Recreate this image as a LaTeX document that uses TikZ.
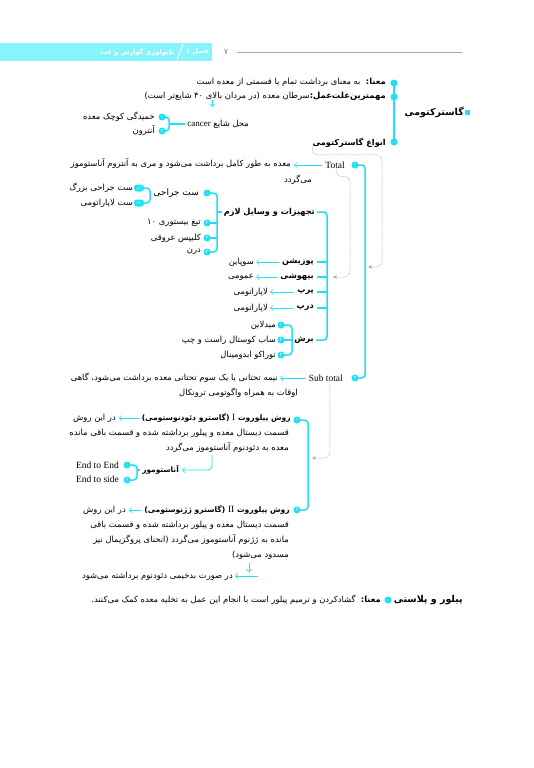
\documentclass[tikz,border=0pt]{standalone}
\usepackage{fontspec}
\setmainfont{Liberation Serif}
\newfontfamily\fa[Script=Arabic]{DejaVu Sans}
\TeXXeTstate=1
\usetikzlibrary{arrows.meta}
\definecolor{cy}{RGB}{30,225,245}
\definecolor{cyl}{RGB}{135,243,250}
\definecolor{gl}{RGB}{170,170,170}
\newcommand\rtltext[1]{\beginR#1\endR}
\newcommand\ltrtext[1]{\beginL{#1}\endL}
\begin{document}
\begin{tikzpicture}[x=1pt,y=-1pt,
  fa/.style={font=\fa\fontsize{8.4}{9}\selectfont, inner sep=0pt, anchor=east},
  fab/.style={font=\fa\bfseries\fontsize{8.2}{9}\selectfont, inner sep=0pt, anchor=east},
  lat/.style={font=\rmfamily\fontsize{9.5}{10}\selectfont, inner sep=0pt, anchor=east},
  hd/.style={font=\fa\bfseries\fontsize{6.5}{7}\selectfont, text=white, inner sep=0pt, anchor=east},
  cyline/.style={draw=cy, line width=1.5pt, rounded corners=3.5pt},
  arr/.style={draw=cy, line width=0.7pt, -{Straight Barb[length=2.5pt,width=5pt]}},
  gcon/.style={draw=gl, line width=0.5pt, dash pattern=on 1pt off 0.8pt, rounded corners=6pt, -{Stealth[length=4pt,width=3.5pt]}},
  dot/.style={circle, fill=cy, minimum size=7pt, inner sep=0pt},
  ndot/.style={circle, fill=cy, minimum size=7pt, inner sep=0pt, text=white, font=\fa\fontsize{4.5}{4.5}\selectfont},
  pill/.style={rectangle, rounded corners=3pt, fill=cy, minimum width=10pt, minimum height=7pt, inner sep=0pt, text=white, font=\fa\fontsize{4}{4}\selectfont}
]
\useasboundingbox (0,0) rectangle (533,768);
\fill[white] (0,0) rectangle (533,768);

% header
\fill[cyl] (0,43) rectangle (212,61);
\draw[white, line width=1pt] (183,44) -- (177,60);
\node[hd] (h1) at (209,52) {\rtltext{فصل ۱}};
\node[hd] (h2) at (175,52) {\rtltext{تکنولوژی گوارش و غدد}};
\node[font=\fa\fontsize{8}{8}\selectfont, text=gray, inner sep=0pt] (pg) at (226,52) {۷};
\draw[gray!70, line width=0.8pt] (237,52) -- (462,52);

% title
\node[fill=cy, minimum size=5pt, inner sep=0pt] (sq) at (467.5,112) {};
\node[font=\fa\bfseries\fontsize{9.5}{10}\selectfont, inner sep=0pt, anchor=east] (title) at (464,112) {\rtltext{گاسترکتومی}};

\node[dot] (d1) at (394,83) {};
\node[dot] (d2) at (394,97) {};
\node[dot] (d3) at (394,142) {};
\draw[cyline] (d1.center) -- (d3.center);

\node[fa] (mana) at (386,82) {\rtltext{{\bfseries معنا:}\ \ به معنای برداشت تمام یا قسمتی از معده است}};
\node[fa] (elat) at (386,96) {\rtltext{{\bfseries مهمترین‌علت‌عمل:}سرطان معده (در مردان بالای ۴۰ شایع‌تر است)}};
\node[fa] (mahal) at (249,124) {\rtltext{محل شایع \ltrtext{\rmfamily\fontsize{9}{9}\selectfont cancer}}};
\coordinate (a1) at (212,100);
\draw[arr] (a1) -- (212,107);
\node[ndot] (c1) at (162,117) {۱};
\node[ndot] (c2) at (162,131) {۲};
\node[fa] (kh) at (155,117) {\rtltext{خمیدگی کوچک معده}};
\node[fa] (ant) at (155,131) {\rtltext{آنترون}};
\coordinate (bx1) at (169,124);
\draw[cyline] (c1.center) -- (c1 -| bx1) -- (c2 -| bx1) -- (c2.center);
\draw[cyline] (bx1) -- ([xshift=-2pt]mahal.west);

\node[fab] (anw) at (386,143) {\rtltext{انواع گاسترکتومی}};

% total / subtotal
\node[lat] (tot) at (345,165) {Total};
\node[ndot] (t1) at (355,165) {۱};
\node[fa] (totx) at (291,164) {\rtltext{معده به طور کامل برداشت می‌شود و مری به آنتروم آناستوموز}};
\node[fa] (totx2) at (312,180) {\rtltext{می‌گردد}};
\draw[arr, shorten <=3pt, shorten >=3pt] (tot.west) -- (totx.east |- tot.west);

\node[lat] (sub) at (343,378) {Sub total};
\node[ndot] (t2) at (355,378) {۲};
\node[fa] (subx) at (278,378) {\rtltext{نیمه تحتانی یا یک سوم تحتانی معده برداشت می‌شود، گاهی}};
\node[fa] (subx2) at (298,393) {\rtltext{اوقات به همراه واگوتومی ترونکال}};
\draw[arr, shorten <=3pt, shorten >=2pt] (sub.west) -- (subx.east |- sub.west);
\coordinate (sp1) at (365,0);
\draw[cyline] (t1.center) -- (t1 -| sp1) -- (t2 -| sp1) -- (t2.center);

% tajhizat
\node[fab] (taj) at (315,212) {\rtltext{تجهیزات و وسایل لازم}};
\node[fab] (poz) at (314,262) {\rtltext{پوزیشن}};
\node[fab] (bih) at (314,277) {\rtltext{بیهوشی}};
\node[fab] (perp) at (314,292) {\rtltext{پرپ}};
\node[fab] (drap) at (314,308) {\rtltext{درپ}};
\node[fab] (bor) at (314,340) {\rtltext{برش}};
\coordinate (sp2) at (327,0);
\draw[cyline] ([xshift=2pt]taj.east) -- (taj.east -| sp2) -- (bor.east -| sp2) -- ([xshift=2pt]bor.east);
\foreach \n in {poz,bih,perp,drap} \draw[cyline] (\n.east -| sp2) -- ([xshift=3pt]\n.east);
\node[fa] (sup) at (254,262) {\rtltext{سوپاین}};
\node[fa] (umu) at (254,277) {\rtltext{عمومی}};
\node[fa] (lap1) at (268,292) {\rtltext{لاپاراتومی}};
\node[fa] (lap2) at (268,308) {\rtltext{لاپاراتومی}};
\draw[arr, shorten <=3pt, shorten >=2pt] (poz.west) -- (sup.east);
\draw[arr, shorten <=3pt, shorten >=2pt] (bih.west) -- (umu.east);
\draw[arr, shorten <=3pt, shorten >=2pt] (perp.west) -- (lap1.east);
\draw[arr, shorten <=3pt, shorten >=2pt] (drap.west) -- (lap2.east);

\node[ndot] (b1) at (281,325) {۱};
\node[ndot] (b2) at (281,340) {۲};
\node[ndot] (b3) at (281,355) {۳};
\coordinate (sp3) at (292,0);
\draw[cyline] (b1.center) -- (b1 -| sp3) -- (b3 -| sp3) -- (b3.center);
\draw[cyline] (b2.center) -- ([xshift=-1pt]bor.west);
\node[fa] (mid) at (276,325) {\rtltext{میدلاین}};
\node[fa] (sab) at (276,340) {\rtltext{ساب کوستال راست و چپ}};
\node[fa] (tor) at (276,355) {\rtltext{توراکو ابدومینال}};

\node[ndot] (s1) at (207,193) {۱};
\node[ndot] (s2) at (207,223) {۲};
\node[ndot] (s3) at (207,238) {۳};
\node[ndot] (s4) at (207,252) {۴};
\coordinate (sp4) at (217,0);
\draw[cyline] (s1.center) -- (s1 -| sp4) -- (s4 -| sp4) -- (s4.center);
\draw[cyline] (s2.center) -- (s2 -| sp4);
\draw[cyline] (s3.center) -- (s3 -| sp4);
\draw[cyline] (taj.west -| sp4) -- ([xshift=-2pt]taj.west);
\node[fa, font=\fa\fontsize{9}{9}\selectfont] (set) at (199,193) {\rtltext{ست جراحی}};
\node[fa] (tigh) at (201,223) {\rtltext{تیغ بیستوری ۱۰}};
\node[fa] (klip) at (201,238) {\rtltext{کلیپس عروقی}};
\node[fa] (dren) at (201,252) {\rtltext{درن}};

\node[pill] (p1) at (139,188) {الف};
\node[pill] (p2) at (139,203) {ب};
\coordinate (sp5) at (150,0);
\draw[cyline] (p1.center) -- (p1 -| sp5) -- (p2 -| sp5) -- (p2.center);
\draw[cyline] (set.west -| sp5) -- ([xshift=-2pt]set.west);
\node[fa] (bozorg) at (133,188) {\rtltext{ست جراحی بزرگ}};
\node[fa] (lapset) at (133,203) {\rtltext{ست لاپاراتومی}};

% pylorus
\node[ndot] (r1) at (297,420) {۱};
\node[ndot] (r2) at (297,510) {۲};
\coordinate (sp6) at (308,0);
\draw[cyline] (r1.center) -- (r1 -| sp6) -- (r2 -| sp6) -- (r2.center);

\node[fab, font=\fa\bfseries\fontsize{7.6}{9}\selectfont] (py1) at (291,418) {\rtltext{روش پیلوروت \ltrtext{\rmfamily\mdseries\fontsize{9.5}{10}\selectfont I} (گاسترو دئودنوستومی)}};
\node[fa] (dar1) at (116,418) {\rtltext{در این روش}};
\draw[arr, shorten <=3pt, shorten >=3pt] (py1.west) -- (dar1.east |- py1.west);
\node[fa] (py1b) at (289,433) {\rtltext{قسمت دیستال معده و پیلور برداشته شده و قسمت باقی مانده}};
\node[fa] (py1c) at (289,448) {\rtltext{معده به دئودنوم آناستوموز می‌گردد}};
\node[fab, font=\fa\bfseries\fontsize{7.4}{9}\selectfont] (anast) at (179,470) {\rtltext{آناستوموز}};
\coordinate (k1) at (212,455);
\draw[arr, rounded corners=4pt] (k1) -- (k1 |- anast.east) -- ([xshift=3pt]anast.east);
\node[ndot] (e1) at (127,465) {۱};
\node[ndot] (e2) at (127,480) {۲};
\coordinate (sp7) at (137,0);
\draw[cyline] (e1.center) -- (e1 -| sp7) -- (e2 -| sp7) -- (e2.center);
\draw[cyline] (anast.west -| sp7) -- ([xshift=-2pt]anast.west);
\node[lat] (ee) at (119,465) {End to End};
\node[lat] (es) at (119,479) {End to side};

\node[fab, font=\fa\bfseries\fontsize{7.6}{9}\selectfont] (py2) at (290,510) {\rtltext{روش پیلوروت \ltrtext{\rmfamily\mdseries\fontsize{9.5}{10}\selectfont II} (گاسترو ژژنوستومی)}};
\node[fa] (dar2) at (126,510) {\rtltext{در این روش}};
\draw[arr, shorten <=3pt, shorten >=3pt] (py2.west) -- (dar2.east |- py2.west);
\node[fa] (py2b) at (289,525) {\rtltext{قسمت دیستال معده و پیلور برداشته شده و قسمت باقی}};
\node[fa] (py2c) at (289,540) {\rtltext{مانده به ژژنوم آناستوموز می‌گردد (انحنای پروگزیمال نیز}};
\node[fa] (py2d) at (289,555) {\rtltext{مسدود می‌شود)}};
\node[fa] (badkh) at (233,576) {\rtltext{در صورت بدخیمی دئودنوم برداشته می‌شود}};
\coordinate (k2) at (249,563);
\draw[arr] (k2) -- (249,572);
\coordinate (k3) at (258,576);
\draw[arr, shorten >=2pt] (k3) -- (badkh.east |- k3);

% gray connectors
\coordinate (gx1) at (382,0);
\coordinate (ge1) at (368,267);
\draw[gcon] ([yshift=1pt]anw.south west) -- ++(0,8) -| (gx1 |- ge1) -- (ge1);
\coordinate (gx2) at (350,0);
\coordinate (ge2) at (333,277);
\draw[gcon] ([xshift=1pt,yshift=2pt]tot.south) -- ++(0,10) -| (gx2 |- ge2) -- (ge2);
\coordinate (ge3) at (312,458);
\draw[gcon] ([xshift=4pt,yshift=3pt]sub.south) |- (ge3);

% bottom
\node[font=\fa\bfseries\fontsize{9.5}{10}\selectfont, inner sep=0pt, anchor=east] (pp) at (463,600) {\rtltext{پیلور و پلاستی}};
\node[dot] (ppd) at (388,600) {};
\node[fa] (ppx) at (381,600) {\rtltext{{\bfseries معنا:}\ \ گشادکردن و ترمیم پیلور است با انجام این عمل به تخلیه معده کمک می‌کنند.}};
\end{tikzpicture}
\end{document}
